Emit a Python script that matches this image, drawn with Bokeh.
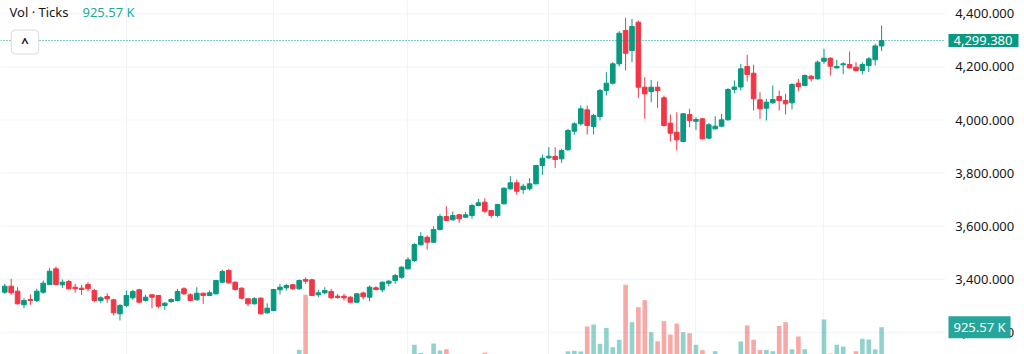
from bokeh.plotting import figure
from bokeh.models import ColumnDataSource, Range1d, FixedTicker, Label
from bokeh.core.properties import value
from bokeh.embed import file_html
from bokeh.resources import INLINE

# ---------------- data ----------------
opens = [
    3351.4, 3374.0, 3355.2, 3304.0, 3323.9, 3320.2, 3351.4, 3380.4, 3439.6, 3379.3,
    3391.7, 3370.3, 3366.5, 3380.4, 3357.8, 3320.2, 3335.2, 3322.8, 3270.1, 3301.3,
    3330.3, 3360.5, 3320.2, 3341.6, 3339.0, 3301.3, 3316.4, 3320.2, 3364.2, 3341.6,
    3322.8, 3347.7, 3339.0, 3345.4, 3389.1, 3433.2, 3389.1, 3366.5, 3326.6, 3307.7,
    3328.8, 3273.8, 3282.5, 3360.5, 3368.0, 3379.3, 3364.2, 3399.3, 3398.1, 3341.6,
    3349.2, 3354.1, 3336.4, 3336.4, 3332.6, 3313.8, 3348.4, 3332.6, 3368.0, 3360.5,
    3385.3, 3395.5, 3407.9, 3439.5, 3470.8, 3529.9, 3558.5, 3539.7, 3587.5, 3636.5,
    3624.1, 3642.9, 3633.9, 3640.3, 3677.9, 3690.4, 3659.1, 3640.3, 3684.3, 3740.8,
    3763.4, 3738.2, 3740.8, 3759.7, 3828.6, 3857.6, 3862.5, 3853.8, 3887.7, 3957.8,
    3985.6, 4038.4, 3975.5, 4013.1, 4111.1, 4138.6, 4211.6, 4337.1, 4261.7, 4368.3,
    4123.5, 4107.3, 4123.5, 4083.6, 3987.9, 3954.0, 3919.0, 4020.7, 3995.4, 4004.5,
    3931.4, 3966.8, 3976.6, 4000.7, 4114.8, 4124.2, 4201.5, 4176.2, 4076.0, 4044.4,
    4064.7, 4088.5, 4073.4, 4064.7, 4138.6, 4129.9, 4164.9, 4155.1, 4221.4, 4232.7,
    4196.2, 4207.9, 4209.0, 4198.8, 4186.4, 4205.3, 4227.0, 4278.9,
]
highs = [
    3383.1, 3401.9, 3370.3, 3328.8, 3342.8, 3364.2, 3395.5, 3441.8, 3448.2, 3399.3,
    3398.1, 3383.1, 3379.3, 3389.1, 3364.2, 3336.4, 3347.7, 3326.6, 3307.7, 3357.8,
    3360.5, 3364.2, 3341.6, 3342.8, 3341.6, 3313.8, 3328.8, 3364.2, 3370.3, 3347.7,
    3370.3, 3349.2, 3357.8, 3398.1, 3435.8, 3439.6, 3391.7, 3370.3, 3328.8, 3332.6,
    3332.6, 3310.0, 3364.2, 3383.1, 3383.1, 3383.1, 3399.3, 3406.8, 3401.9, 3360.5,
    3370.3, 3364.2, 3345.4, 3345.4, 3336.4, 3347.7, 3354.1, 3376.7, 3374.0, 3391.7,
    3398.1, 3420.7, 3449.3, 3483.2, 3535.9, 3577.4, 3564.9, 3600.0, 3646.7, 3675.3,
    3655.3, 3646.7, 3652.7, 3684.3, 3703.2, 3705.4, 3661.7, 3684.3, 3746.9, 3788.3,
    3775.9, 3759.7, 3780.8, 3831.2, 3870.0, 3897.5, 3897.5, 3891.5, 3966.8, 3991.7,
    4054.6, 4054.6, 4023.3, 4117.5, 4180.0, 4217.7, 4334.4, 4384.9, 4381.1, 4374.7,
    4161.2, 4151.4, 4145.0, 4092.2, 4020.7, 4029.3, 4025.6, 4042.1, 4010.5, 4006.8,
    3987.9, 4014.3, 4023.3, 4119.7, 4148.7, 4211.6, 4245.5, 4207.9, 4104.7, 4079.8,
    4129.9, 4111.1, 4098.6, 4138.6, 4155.1, 4171.3, 4170.2, 4224.1, 4268.1, 4236.5,
    4226.7, 4217.7, 4258.0, 4217.7, 4217.7, 4236.5, 4287.0, 4355.9,
]
lows = [
    3345.4, 3341.6, 3305.1, 3291.2, 3304.0, 3313.8, 3345.4, 3379.3, 3379.3, 3368.0,
    3361.6, 3349.2, 3341.6, 3354.1, 3313.8, 3310.0, 3311.5, 3263.7, 3244.8, 3294.9,
    3322.8, 3310.0, 3316.4, 3291.2, 3291.2, 3285.1, 3311.5, 3316.4, 3341.6, 3317.5,
    3320.2, 3307.7, 3336.4, 3342.8, 3386.8, 3383.1, 3357.8, 3323.9, 3298.7, 3305.1,
    3267.4, 3270.1, 3279.9, 3342.8, 3357.8, 3360.5, 3360.5, 3383.1, 3336.4, 3332.6,
    3342.8, 3326.6, 3326.6, 3320.2, 3311.5, 3311.5, 3323.9, 3317.5, 3357.8, 3351.4,
    3374.0, 3383.1, 3401.8, 3436.9, 3464.4, 3527.3, 3512.2, 3537.4, 3583.8, 3618.8,
    3621.4, 3612.8, 3631.6, 3627.8, 3675.3, 3650.4, 3630.1, 3633.9, 3681.7, 3737.1,
    3718.2, 3722.0, 3734.4, 3757.0, 3793.6, 3853.8, 3819.9, 3838.8, 3885.1, 3944.2,
    3979.2, 3945.3, 3945.3, 3998.1, 4092.2, 4133.7, 4201.5, 4186.4, 4217.7, 4083.6,
    4004.5, 4067.0, 4045.9, 3975.5, 3919.0, 3885.1, 3916.3, 3972.8, 3963.0, 3926.5,
    3929.1, 3964.2, 3972.8, 3998.1, 4100.9, 4111.1, 4146.1, 4035.7, 4004.5, 3998.1,
    4061.0, 4035.7, 4020.7, 4039.5, 4107.3, 4127.3, 4144.8, 4152.3, 4211.6, 4167.6,
    4194.7, 4172.8, 4194.7, 4182.2, 4171.5, 4180.0, 4205.3, 4259.7,
]
closes = [
    3374.0, 3349.2, 3307.7, 3320.2, 3320.2, 3355.2, 3385.3, 3430.5, 3380.4, 3389.1,
    3364.2, 3364.2, 3361.6, 3364.2, 3320.2, 3330.3, 3326.6, 3273.8, 3301.3, 3339.0,
    3354.1, 3313.8, 3332.6, 3332.6, 3298.7, 3310.0, 3323.9, 3354.1, 3345.4, 3320.2,
    3347.7, 3339.0, 3349.2, 3395.5, 3429.4, 3386.8, 3361.6, 3328.8, 3307.7, 3326.6,
    3270.1, 3291.2, 3361.6, 3370.3, 3376.7, 3364.2, 3395.5, 3392.9, 3339.0, 3349.2,
    3357.8, 3330.3, 3331.5, 3330.3, 3313.8, 3345.4, 3334.1, 3370.3, 3361.6, 3389.1,
    3392.9, 3414.3, 3445.5, 3473.4, 3531.0, 3561.2, 3539.7, 3587.5, 3636.5, 3621.4,
    3640.3, 3627.8, 3642.9, 3677.9, 3688.1, 3656.5, 3640.3, 3681.7, 3743.1, 3763.4,
    3731.8, 3750.6, 3759.7, 3828.6, 3856.1, 3863.6, 3851.2, 3885.1, 3960.4, 3985.6,
    4042.1, 3979.2, 4016.9, 4111.1, 4138.6, 4211.6, 4326.9, 4251.6, 4352.1, 4123.5,
    4098.6, 4123.5, 4111.1, 3979.2, 3950.2, 3925.4, 4023.3, 3998.1, 4001.8, 3929.1,
    3981.9, 3976.6, 4000.7, 4114.8, 4124.2, 4192.8, 4171.5, 4079.8, 4042.1, 4067.0,
    4077.2, 4073.4, 4061.0, 4133.7, 4126.1, 4167.6, 4155.1, 4217.7, 4232.7, 4202.6,
    4201.5, 4211.6, 4196.2, 4186.4, 4209.0, 4230.3, 4278.9, 4299.38,
]
volumes_k = [
    30, 25, 40, 35, 20, 30, 45, 50, 40, 25,
    30, 20, 25, 35, 40, 20, 25, 45, 50, 35,
    30, 40, 20, 25, 35, 20, 25, 30, 30, 25,
    35, 20, 20, 40, 50, 45, 30, 35, 30, 25,
    45, 30, 55, 25, 20, 30, 212, 1949, 55, 30,
    25, 35, 20, 20, 30, 35, 25, 40, 20, 35,
    25, 40, 45, 55, 370, 111, 50, 411, 190, 231,
    30, 35, 25, 50, 30, 120, 40, 45, 55, 40,
    45, 25, 35, 55, 50, 30, 45, 40, 164, 180,
    158, 948, 1011, 401, 900, 294, 528, 2265, 1084, 1557,
    1779, 768, 480, 1112, 695, 1042, 768, 736, 370, 202,
    70, 167, 40, 50, 35, 474, 979, 531, 202, 205,
    167, 963, 1084, 227, 632, 231, 40, 50, 1169, 95,
    370, 316, 35, 167, 559, 537, 227, 925.57,
]
month_starts = [19, 42, 63, 85, 108, 128]          # vertical grid (month boundaries)
price_ticks = [3200, 3400, 3600, 3800, 4000, 4200, 4400]
last_price = 4299.38
last_volume_k = 925.57

# ---------------- styling / layout ----------------
GREEN = "#089981"
RED = "#f23645"
VOL_GREEN = "#26a69a"
VOL_RED = "#ef5350"
GRID = "#f0f3fa"
TEXT = "#131722"
FONT = "Noto Sans"

X_START, X_END = -0.67, 159.33     # bar-index range across the whole canvas
PANE_END = 146.98                  # right edge of the chart pane (price scale to its right)
SCALE_X = 148.5                    # where the price-scale labels start
TAG_X = 147.45                     # left edge of the price tags

n = len(opens)
idx = list(range(n))
up = [c >= o for o, c in zip(opens, closes)]
src = ColumnDataSource(dict(
    i=idx, o=opens, h=highs, l=lows, c=closes,
    top=[max(o, c) for o, c in zip(opens, closes)],
    bottom=[min(o, c) for o, c in zip(opens, closes)],
    color=[GREEN if u else RED for u in up],
    vcolor=[VOL_GREEN if u else VOL_RED for u in up],
    vol=[v * 1000 for v in volumes_k],
))

p = figure(width=1024, height=354, output_backend="svg", toolbar_location=None,
           tools="", title=None, x_axis_location=None, y_axis_location=None,
           x_range=Range1d(X_START, X_END), y_range=Range1d(3116.8, 4450.1),
           min_border=0)
p.outline_line_color = None
p.background_fill_color = "white"
p.border_fill_color = "white"
# volume scale: overlay pane whose zero sits just below the visible bottom edge
p.extra_y_ranges = {"vol": Range1d(63200, 11246000)}

# grids
p.ygrid.visible = False
p.xgrid.ticker = FixedTicker(ticks=month_starts)
p.xgrid.grid_line_color = GRID
p.segment(x0=[X_START] * len(price_ticks), x1=[PANE_END] * len(price_ticks),
          y0=price_ticks, y1=price_ticks, line_color=GRID, line_width=1)

# price scale labels
p.text(x=[SCALE_X] * len(price_ticks), y=price_ticks,
       text=[f"{t:,.3f}" for t in price_ticks], text_align="left",
       text_baseline="middle", text_color=TEXT, text_font=value(FONT),
       text_font_size=value("13px"))

# volume bars (overlay at bottom)
p.vbar(x="i", top="vol", bottom=0, width=0.72, fill_color="vcolor",
       fill_alpha=0.5, line_alpha=0, y_range_name="vol", source=src)

# candles
p.segment(x0="i", y0="h", x1="i", y1="l", line_color="color", line_width=1, source=src)
p.vbar(x="i", top="top", bottom="bottom", width=0.72, fill_color="color",
       line_color="color", line_width=1, source=src)

# last price line
p.segment(x0=[X_START], x1=[PANE_END], y0=[last_price], y1=[last_price],
          line_color=GREEN, line_dash="1 2", line_width=1)

# price tags on the scale
p.add_layout(Label(x=TAG_X, y=last_price, text=f"{last_price:,.3f}",
                   text_color="white", text_font=FONT, text_font_size="13px",
                   text_baseline="middle", background_fill_color=GREEN,
                   padding=dict(left=5, right=6, top=2, bottom=2)))
p.add_layout(Label(x=TAG_X, y=last_volume_k * 1000, y_range_name="vol",
                   text=f"{last_volume_k:.2f} K", text_color="white", text_font=FONT,
                   text_font_size="13px", text_baseline="middle",
                   background_fill_color=VOL_GREEN,
                   padding=dict(left=5, right=5, top=2, bottom=2)))

# legend in the top left corner
p.add_layout(Label(x=9, y=334, x_units="screen", y_units="screen", text="Vol · Ticks",
                   text_color=TEXT, text_font=FONT, text_font_size="13px"))
p.add_layout(Label(x=82, y=334, x_units="screen", y_units="screen",
                   text=f"{last_volume_k:.2f} K", text_color="#22ab94",
                   text_font=FONT, text_font_size="13px"))
# collapse button
p.add_layout(Label(x=24.5, y=312.5, x_units="screen", y_units="screen", text="^",
                   text_align="center", text_baseline="middle", text_color=TEXT,
                   text_font=FONT, text_font_size="13px", text_font_style="bold",
                   background_fill_color="white", border_line_color="#d8dbe3",
                   border_radius=4, padding=dict(left=10, right=10, top=3, bottom=3)))

open("out.html", "w").write(file_html(p, INLINE))
